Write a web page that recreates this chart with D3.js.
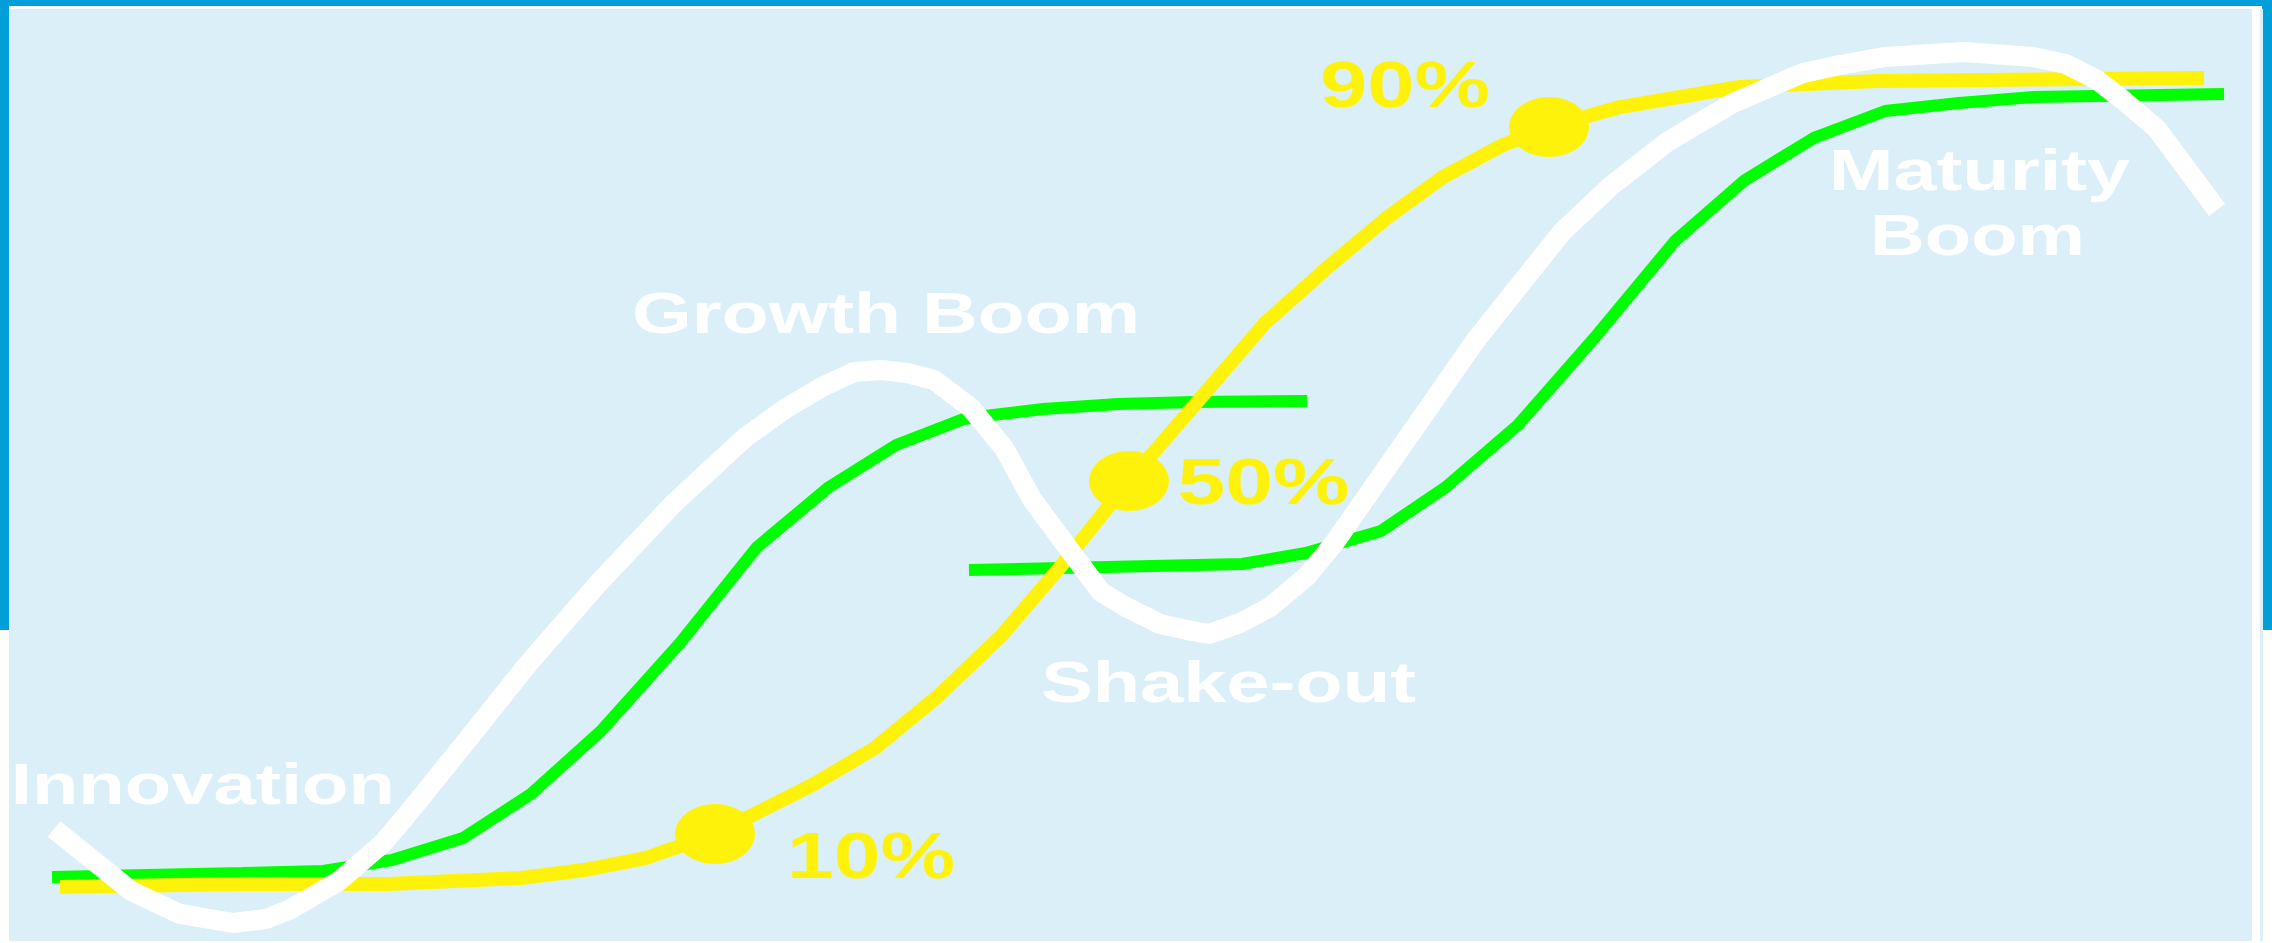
<!DOCTYPE html>
<html>
<head>
  <meta charset="utf-8">
  <style>
    html, body { margin: 0; padding: 0; background: #ffffff; overflow: hidden; }
    svg { display: block; }
    .phase { font-family: "Liberation Sans", Arial, sans-serif; font-weight: bold; fill: #ffffff; }
    .pct { font-family: "Liberation Sans", Arial, sans-serif; font-weight: bold; fill: #fff20a; }
  </style>
</head>
<body>

  <script src="https://cdn.jsdelivr.net/npm/d3@7/dist/d3.min.js"></script>

  <script>
    // ---- data (time 0-100 on x, level 0-100 on y) ----

    // white wave: the boom / shake-out cycle
    var waveT = [2.38, 5.77, 7.92, 10.26, 11.71, 12.81, 14.92, 16.86, 17.87, 20.64, 23.24, 26.23,
                 29.67, 32.83, 34.60, 36.27, 37.59, 38.78, 39.92, 41.11, 42.74, 44.19, 45.42, 47.01,
                 48.46, 49.56, 51.06, 52.46, 53.21, 54.58, 55.90, 57.53, 58.76, 64.96, 68.75, 70.95,
                 73.37, 76.28, 79.36, 80.99, 82.97, 86.44, 89.48, 90.93, 92.30, 93.49, 94.94, 97.58];
    var waveV = [12.09, 5.51, 3.08, 2.12, 2.55, 3.61, 6.57, 10.60, 13.47, 21.74, 29.59, 37.86,
                 46.66, 53.66, 56.73, 59.07, 60.55, 60.76, 60.45, 59.70, 56.73, 52.49, 47.08, 41.89,
                 37.22, 35.63, 33.83, 33.09, 32.77, 33.93, 35.63, 38.92, 42.52, 63.94, 75.40, 80.38,
                 84.94, 89.08, 92.26, 93.11, 93.96, 94.49, 93.96, 93.21, 91.52, 89.29, 86.32, 77.73];

    // yellow adoption curve
    var adoptT = [2.64, 10.65, 17.08, 22.93, 25.70, 28.39, 31.47, 35.83, 38.51, 41.29, 44.06, 46.70,
                  49.69, 52.77, 55.68, 58.45, 61.09, 63.51, 66.15, 68.18, 71.30, 76.50, 82.66, 97.01];
    var adoptV = [5.94, 6.26, 6.26, 6.89, 7.74, 9.01, 11.56, 16.86, 20.68, 26.19, 32.56, 39.98,
                  48.99, 57.58, 65.75, 71.69, 76.99, 81.23, 84.62, 86.53, 88.65, 90.77, 91.41, 91.73];

    // green S-curves (first and second wave)
    var wave1T = [2.29, 10.65, 14.22, 17.25, 20.38, 23.37, 26.45, 29.93, 33.32, 36.49, 39.44, 42.43,
                  43.71, 45.91, 49.21, 52.55, 57.53];
    var wave1V = [7.00, 7.42, 7.64, 8.80, 11.13, 15.80, 22.48, 31.81, 41.99, 48.36, 52.81, 55.57,
                  55.99, 56.63, 57.16, 57.37, 57.48];
    var wave2T = [42.65, 54.67, 57.48, 60.78, 63.64, 66.81, 70.29, 73.72, 76.80, 79.84, 82.97, 86.22,
                  89.52, 97.89];
    var wave2V = [39.55, 40.19, 41.36, 43.69, 48.36, 54.93, 64.48, 74.44, 80.91, 85.37, 88.23, 89.08,
                  89.71, 90.03];

    // adoption milestones on the yellow curve
    var dotIndex = [6, 12, 19];
    var dotLabels = ["10%", "50%", "90%"];

    // phase names
    var phaseLabels = ["Innovation", "Growth Boom", "Shake-out", "Maturity", "Boom"];

    // ---- layout ----
    var global_width = 2272,
        global_height = 943;

    var x = d3.scaleLinear().domain([0, 100]).range([0, global_width]),
        y = d3.scaleLinear().domain([0, 100]).range([global_height, 0]);

    var svg = d3.select("body")
                .append("svg")
                .attr("width", global_width)
                .attr("height", global_height);

    // slide frame
    svg.append("rect").attr("x", 0).attr("y", 0)
       .attr("width", global_width).attr("height", 630).attr("fill", "#009fda");
    svg.append("rect").attr("x", 9).attr("y", 6)
       .attr("width", 2253).attr("height", 937).attr("fill", "#ffffff");
    svg.append("rect").attr("x", 9).attr("y", 9)
       .attr("width", 2243).attr("height", 932).attr("fill", "#dbeff8");
    svg.append("rect").attr("x", 2260).attr("y", 9)
       .attr("width", 3).attr("height", 932).attr("fill", "#dbeff8");

    var line = d3.line()
                 .x(function(d) { return x(d[0]); })
                 .y(function(d) { return y(d[1]); });

    function pairs(ts, vs) {
      return ts.map(function(t, i) { return [t, vs[i]]; });
    }

    function drawLine(data, colour, w) {
      svg.append("path")
         .datum(data)
         .attr("d", line)
         .attr("fill", "none")
         .attr("stroke", colour)
         .attr("stroke-width", w)
         .attr("stroke-linejoin", "bevel")
         .attr("stroke-linecap", "butt");
    }

    drawLine(pairs(wave1T, wave1V), "#00ff00", 12);
    drawLine(pairs(wave2T, wave2V), "#00ff00", 12);
    drawLine(pairs(adoptT, adoptV), "#fff20a", 14);

    // milestone dots
    svg.selectAll(".dot")
       .data(dotIndex)
       .enter()
       .append("ellipse")
       .attr("class", "dot")
       .attr("cx", function(i) { return x(adoptT[i]); })
       .attr("cy", function(i) { return y(adoptV[i]); })
       .attr("rx", 40)
       .attr("ry", 30)
       .attr("fill", "#fff20a");

    drawLine(pairs(waveT, waveV), "#ffffff", 20);

    // label placement: centre x (time), baseline (level), stretched width in px
    var phasePos = [[8.93, 14.74, 384], [39.00, 64.69, 508], [54.07, 25.56, 375],
                    [87.13, 79.85, 301], [87.04, 72.96, 215]];
    var pctPos = [[38.34, 6.89, 168], [55.61, 46.55, 172], [61.84, 88.65, 170]];

    svg.selectAll(".phase")
       .data(phaseLabels)
       .enter()
       .append("text")
       .attr("class", "phase")
       .attr("x", function(d, i) { return x(phasePos[i][0]); })
       .attr("y", function(d, i) { return y(phasePos[i][1]); })
       .attr("text-anchor", "middle")
       .attr("font-size", 57)
       .attr("textLength", function(d, i) { return phasePos[i][2]; })
       .attr("lengthAdjust", "spacingAndGlyphs")
       .text(function(d) { return d; });

    svg.selectAll(".pct")
       .data(dotLabels)
       .enter()
       .append("text")
       .attr("class", "pct")
       .attr("x", function(d, i) { return x(pctPos[i][0]); })
       .attr("y", function(d, i) { return y(pctPos[i][1]); })
       .attr("text-anchor", "middle")
       .attr("font-size", 65)
       .attr("textLength", function(d, i) { return pctPos[i][2]; })
       .attr("lengthAdjust", "spacingAndGlyphs")
       .text(function(d) { return d; });
  </script>

</body>
</html>
